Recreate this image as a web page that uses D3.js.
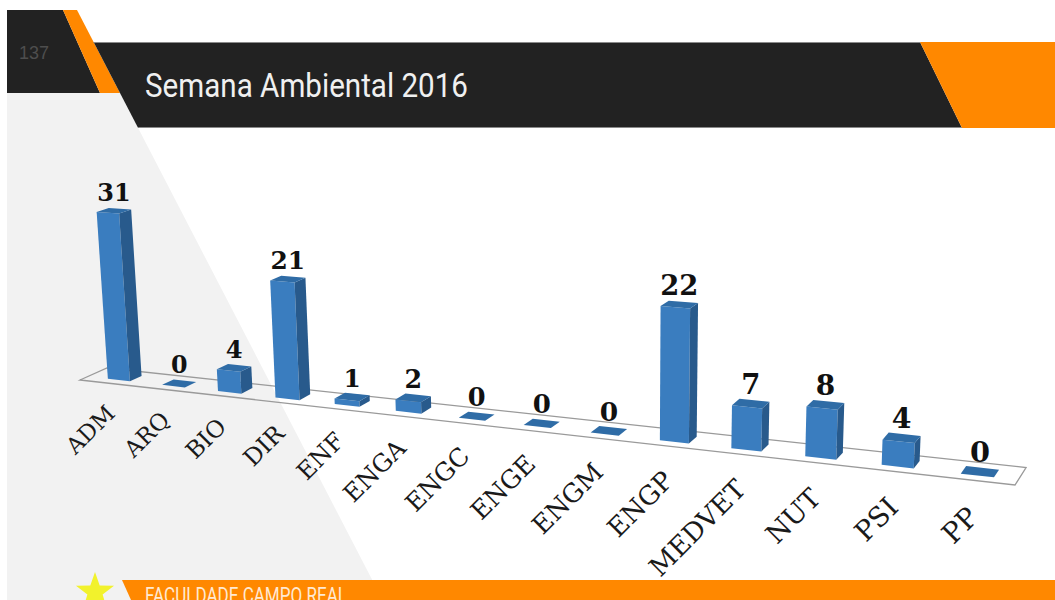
<!DOCTYPE html>
<html>
<head>
<meta charset="utf-8">
<script src="https://cdn.jsdelivr.net/npm/d3@7"></script>
<style>
  html, body { margin: 0; padding: 0; background: #ffffff; }
  svg { display: block; }
</style>
</head>
<body>
<svg id="chart" width="1055" height="600"></svg>
<script>
// ---- data ----
const categories = ["ADM", "ARQ", "BIO", "DIR", "ENF", "ENGA", "ENGC", "ENGE", "ENGM", "ENGP", "MEDVET", "NUT", "PSI", "PP"];
const values = [31, 0, 4, 21, 1, 2, 0, 0, 0, 22, 7, 8, 4, 0];
const titleText = "Semana Ambiental 2016";
const slideNumber = "137";
const footerText = "FACULDADE CAMPO REAL";

const svg = d3.select("#chart");

// ---- slide decoration ----
const deco = svg.append("g");
deco.append("rect").attr("width", 1055).attr("height", 600).attr("fill", "#ffffff");
// light grey panel on the left, cut by the diagonal
const diag = y => 77 + 0.518 * (y - 10);
deco.append("polygon")
  .attr("points", [[7, 93], [diag(93), 93], [diag(600), 600], [7, 600]].join(" "))
  .attr("fill", "#f2f2f2");
// dark corner block with the slide number
deco.append("polygon")
  .attr("points", [[7, 10], [63, 10], [100, 93], [7, 93]].join(" "))
  .attr("fill", "#222222");
// orange diagonal stripe
deco.append("polygon")
  .attr("points", [[63, 10], [diag(10), 10], [diag(93), 93], [100, 93]].join(" "))
  .attr("fill", "#ff8800");
// title bar
deco.append("polygon")
  .attr("points", [[diag(42), 42], [920, 42], [962, 128], [diag(128), 128]].join(" "))
  .attr("fill", "#222222");
deco.append("polygon")
  .attr("points", [[920, 42], [1055, 42], [1055, 128], [962, 128]].join(" "))
  .attr("fill", "#ff8800");
deco.append("line").attr("x1", diag(42)).attr("x2", 920).attr("y1", 42.5).attr("y2", 42.5)
  .attr("stroke", "#8a8a8a").attr("stroke-width", 1);
deco.append("line").attr("x1", diag(128)).attr("x2", 962).attr("y1", 127.5).attr("y2", 127.5)
  .attr("stroke", "#8a8a8a").attr("stroke-width", 1);

deco.append("text")
  .attr("x", 19).attr("y", 59)
  .attr("font-family", "Liberation Sans, Arial, sans-serif")
  .attr("font-size", 18)
  .attr("fill", "#4e4e4e")
  .text(slideNumber);

deco.append("text")
  .attr("x", 145).attr("y", 97)
  .attr("font-family", "Roboto, sans-serif")
  .attr("font-size", 33)
  .attr("textLength", 323)
  .attr("lengthAdjust", "spacingAndGlyphs")
  .attr("fill", "#f0f0f0")
  .text(titleText);

// footer band
deco.append("polygon")
  .attr("points", [[122, 580], [1055, 580], [1055, 600], [131, 600]].join(" "))
  .attr("fill", "#ff8800");
deco.append("text")
  .attr("x", 145).attr("y", 603)
  .attr("font-family", "Roboto, sans-serif")
  .attr("font-size", 22)
  .attr("textLength", 202)
  .attr("lengthAdjust", "spacingAndGlyphs")
  .attr("fill", "#ffe9d2")
  .text(footerText);

// star
const star = d3.range(10).map(k => {
  const r = k % 2 === 0 ? 20 : 8;
  const a = -Math.PI / 2 + k * Math.PI / 5;
  return [95 + r * Math.cos(a), 592 + r * Math.sin(a)];
});
deco.append("polygon").attr("points", star.join(" ")).attr("fill", "#f2f22c");

// ---- 3D column chart ----
// projective camera: world x along the category axis (0..1), y as scaled value, z depth (0 front .. 1 back)
// each column is a homogeneous screen vector (sx*w, sy*w, w)
const camera = {
  origin: [80, 380, 1],
  xAxis: [732, 8, -0.2],
  yAxis: [-15.0, -193.5, -0.02419],
  zAxis: [29.12, -4.738, 0.01974]
};
function homog(X, Y, Z) {
  return [0, 1, 2].map(k =>
    camera.origin[k] + X * camera.xAxis[k] + Y * camera.yAxis[k] + Z * camera.zAxis[k]);
}
function project(X, Y, Z) {
  const h = homog(X, Y, Z);
  return [h[0] / h[2], h[1] / h[2]];
}
// perspective scale factor (closer points look bigger)
const depthScale = (X, Y, Z) => 1 / homog(X, Y, Z)[2];

const xScale = d3.scaleBand()
  .domain(categories)
  .range([0.006, 1])
  .paddingInner(0.59)
  .paddingOuter(0.295);
const yScale = d3.scaleLinear().domain([0, 35]).range([0, 1]);
const zScale = d3.scaleLinear().domain([0, 1]).range([0.28, 0.72]);

const chart = svg.append("g");
const line = d3.line();

// floor
const floorPts = [[0, 0, 0], [1, 0, 0], [1, 0, 1], [0, 0, 1]].map(p => project(...p));
chart.append("path")
  .attr("d", line(floorPts) + "Z")
  .attr("fill", "none")
  .attr("stroke", "#9a9a9a")
  .attr("stroke-width", 1.3);

const colors = { front: "#3a7dbf", side: "#285a8c", top: "#2f6ca6" };

const bars = chart.selectAll("g.bar")
  .data(categories.map((c, i) => ({ c, v: values[i] })))
  .join("g").attr("class", "bar");

bars.each(function (d) {
  const g = d3.select(this);
  const x0 = xScale(d.c), x1 = x0 + xScale.bandwidth();
  const z0 = zScale(0), z1 = zScale(1);
  const y1 = yScale(d.v);
  if (d.v > 0) {
    g.append("path")
      .attr("d", line([[x0, 0, z0], [x1, 0, z0], [x1, y1, z0], [x0, y1, z0]].map(p => project(...p))) + "Z")
      .attr("fill", colors.front);
    g.append("path")
      .attr("d", line([[x1, 0, z0], [x1, 0, z1], [x1, y1, z1], [x1, y1, z0]].map(p => project(...p))) + "Z")
      .attr("fill", colors.side);
  }
  g.append("path")
    .attr("d", line([[x0, y1, z0], [x1, y1, z0], [x1, y1, z1], [x0, y1, z1]].map(p => project(...p))) + "Z")
    .attr("fill", colors.top);
});

const xMid = d => xScale(d.c) + xScale.bandwidth() / 2;

// value labels
bars.append("text")
  .attr("transform", d => {
    const [sx, sy] = project(xMid(d), yScale(d.v), zScale(0.5));
    return `translate(${sx},${sy - 10})`;
  })
  .attr("text-anchor", "middle")
  .attr("font-family", "DejaVu Serif, serif")
  .attr("font-weight", "bold")
  .attr("font-size", d => 23.5 * depthScale(xMid(d), yScale(d.v), 0.5))
  .attr("fill", "#111111")
  .text(d => d.v);

// category labels
bars.append("text")
  .attr("transform", d => {
    const s = depthScale(xMid(d), 0, 0);
    const [sx, sy] = project(xMid(d), 0, 0);
    return `translate(${sx + 5 * s},${sy + 31 * s}) rotate(-45)`;
  })
  .attr("text-anchor", "end")
  .attr("font-family", "DejaVu Serif, serif")
  .attr("font-size", d => 22.5 * depthScale(xMid(d), 0, 0))
  .attr("fill", "#1a1a1a")
  .text(d => d.c);
</script>
</body>
</html>
